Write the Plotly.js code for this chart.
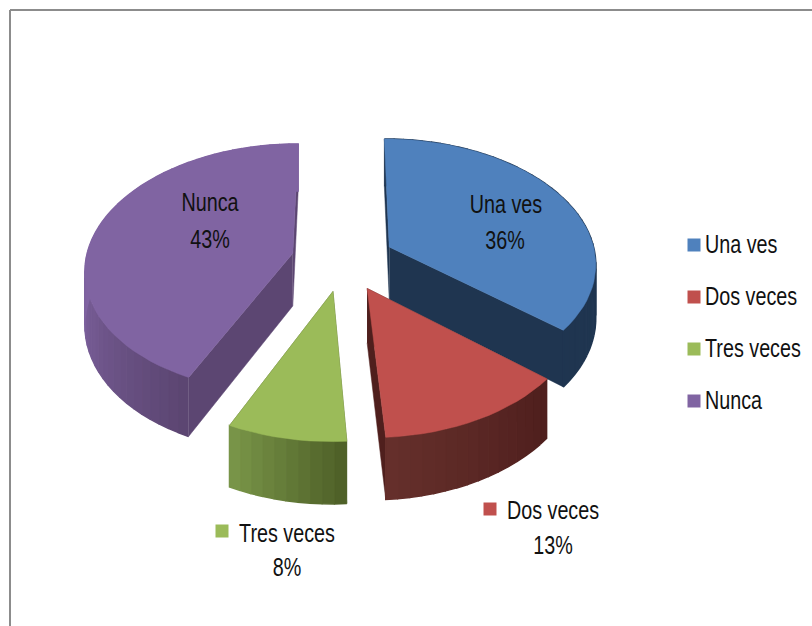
<!DOCTYPE html>
<html>
<head>
<meta charset="utf-8">
<script src="https://cdn.plot.ly/plotly-3.0.1.min.js"></script>
<style>html,body{margin:0;padding:0;background:#fff}#c{width:812px;height:626px}</style>
</head>
<body>
<div id="c"></div>
<script>
const categories = ["Una ves", "Dos veces", "Tres veces", "Nunca"];
const values = [36, 13, 8, 43];
const topColors = ["#4F81BD", "#C0504D", "#9BBB59", "#8064A2"];
const cutColors = ["#1F3550", "#4F1F1D", "#4F6128", "#5C4672"];
const wallStartColors = ["#1F3550", "#4F1F1D", "#4F6128", "#5C4672"];
const wallEndColors = ["#1F3550", "#66302C", "#7D9A4B", "#8064A2"];

const labelFont = "Liberation Sans, Arial, sans-serif";
const labelSize = 25;
const narrow = 0.79;
const textColor = "#111111";

// projection of the tilted pie onto the axes
const CX = 343, CY = 260, RX = 207, RY = 124, K = 0.12, DEPTH = 53, PULL = 0.25, STEP = 3;
function project(u, v, down) {
  const s = 1 / (1 - K * v);
  return [CX + RX * u * s, CY + RY * v * s + (down ? DEPTH * s : 0)];
}
function hex(c) { return [1, 3, 5].map(i => parseInt(c.substr(i, 2), 16)); }
function mix(a, b, f) {
  const A = hex(a), B = hex(b);
  return "rgb(" + A.map((x, i) => Math.round(x + (B[i] - x) * f)).join(",") + ")";
}
function poly(points, color, lw) {
  return {
    type: "scatter", mode: "lines", fill: "toself", fillcolor: color,
    x: points.map(p => p[0]), y: points.map(p => p[1]),
    line: { color: color, width: lw }, hoverinfo: "skip", showlegend: false
  };
}

const total = values.reduce((a, b) => a + b, 0);
let cum = 0;
const slices = values.map((v, i) => {
  const start = cum / total * 2 * Math.PI;
  cum += v;
  const end = cum / total * 2 * Math.PI;
  const mid = (start + end) / 2;
  return { i, start, end, ou: PULL * Math.sin(mid), ov: -PULL * Math.cos(mid) };
});

const traces = [];
function rim(s, t) { return [s.ou + Math.sin(t), s.ov - Math.cos(t)]; }
// back slices are painted first
[3, 0, 2, 1].forEach(idx => {
  const s = slices[idx];
  const apex = [s.ou, s.ov];
  [s.start, s.end].forEach(t => {
    const r = rim(s, t);
    traces.push(poly([project(apex[0], apex[1], false), project(r[0], r[1], false),
                      project(r[0], r[1], true), project(apex[0], apex[1], true)], cutColors[idx], 0.5));
  });
  const n = Math.ceil((s.end - s.start) / (STEP * Math.PI / 180));
  // the wall shading runs along the rim
  for (let j = 0; j < n; j++) {
    const t0 = s.start + (s.end - s.start) * j / n;
    const t1 = s.start + (s.end - s.start) * (j + 1) / n;
    const a = rim(s, t0), b = rim(s, t1);
    const limit = idx === 3 ? 0.4 : 1;
    traces.push(poly([project(a[0], a[1], false), project(b[0], b[1], false),
                      project(b[0], b[1], true), project(a[0], a[1], true)],
      mix(wallStartColors[idx], wallEndColors[idx], Math.min(1, (j / n) / limit)), 1.5));
  }
  const top = [project(apex[0], apex[1], false)];
  for (let j = 0; j <= n; j++) {
    const r = rim(s, s.start + (s.end - s.start) * j / n);
    top.push(project(r[0], r[1], false));
  }
  top.push(top[0]);
  traces.push(poly(top, topColors[idx], 0.5));
});

// data labels
const nameX = [506, 553, 287, 210], nameY = [207, 513, 536, 205];
const pctX = [505, 553, 287, 210], pctY = [243, 548, 570, 242];
const textBase = {
  type: "scatter", mode: "text", hoverinfo: "skip", showlegend: false,
  textfont: { family: labelFont, size: labelSize, color: textColor }
};
traces.push(Object.assign({}, textBase, { x: nameX, y: nameY, text: categories, textposition: "middle center" }));
traces.push(Object.assign({}, textBase, { x: pctX, y: pctY, text: values.map(v => v + "%"), textposition: "middle center" }));
// legend keys inside the outside labels
traces.push({
  type: "scatter", mode: "markers", x: [490, 222], y: [509, 531], hoverinfo: "skip", showlegend: false,
  marker: { symbol: "square", size: 13, color: [topColors[1], topColors[2]] }
});
// legend column
const legendKeyX = [694, 694, 694, 694], legendTextX = [705, 705, 705, 705];
const legendKeyY = [245, 297, 349, 401], legendTextY = [247, 299, 351, 403];
traces.push({
  type: "scatter", mode: "markers", x: legendKeyX, y: legendKeyY, hoverinfo: "skip", showlegend: false,
  marker: { symbol: "square", size: 13, color: topColors }
});
traces.push(Object.assign({}, textBase, { x: legendTextX, y: legendTextY, text: categories, textposition: "middle right" }));

const layout = {
  width: 812, height: 626, margin: { l: 0, r: 0, t: 0, b: 0 },
  paper_bgcolor: "#ffffff", plot_bgcolor: "#ffffff", showlegend: false,
  xaxis: { range: [0, 812], visible: false, fixedrange: true },
  yaxis: { range: [626, 0], visible: false, fixedrange: true },
  shapes: [
    { type: "line", x0: 10, x1: 10, y0: 10, y1: 626, line: { color: "#8C8C8C", width: 2 } },
    { type: "line", x0: 10, x1: 812, y0: 10, y1: 10, line: { color: "#8C8C8C", width: 2 } }
  ]
};
Plotly.newPlot("c", traces, layout, { displayModeBar: false, staticPlot: true }).then(gd => {
  // the original face is a condensed one: squeeze the glyphs of the real text
  gd.querySelectorAll(".textpoint text").forEach(el => {
    el.setAttribute("textLength", el.getComputedTextLength() * narrow);
    el.setAttribute("lengthAdjust", "spacingAndGlyphs");
  });
});
</script>
</body>
</html>
